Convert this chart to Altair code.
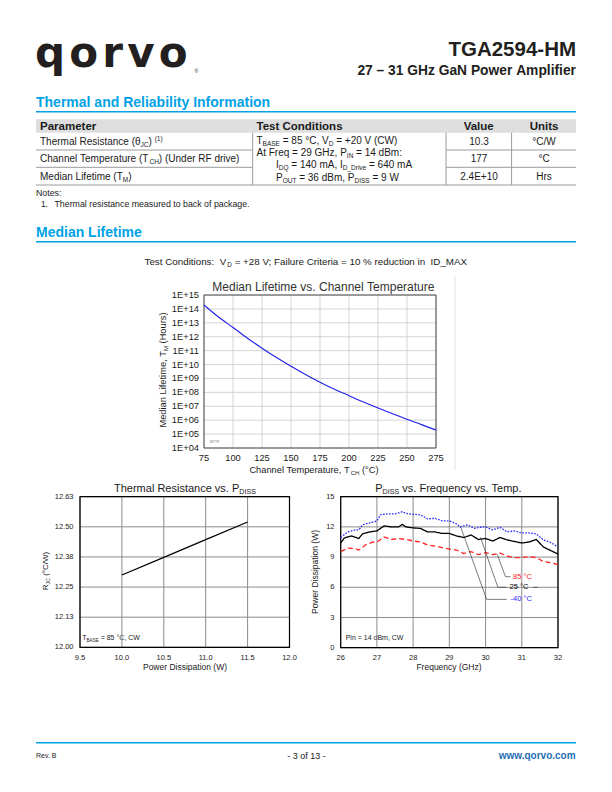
import altair as alt
import pandas as pd

# ------------------------------------------------------------------ data
MEDIAN_TEMP_C = [75, 87.5, 100, 112.5, 125, 137.5, 150, 162.5, 175, 187.5,
                 200, 212.5, 225, 237.5, 250, 262.5, 275]
MEDIAN_LIFE_HRS = [1.9e14, 2.6e13, 4.6e12, 7.8e11, 1.5e11, 3.2e10, 7.6e9, 1.95e9,
                   5.4e8, 1.7e8, 5.8e7, 2.0e7, 7.4e6, 2.9e6, 1.15e6, 4.8e5, 1.95e5]
MEDIAN_X_TICKS = [75, 100, 125, 150, 175, 200, 225, 250, 275]
MEDIAN_Y_TICKS = [1e4, 1e5, 1e6, 1e7, 1e8, 1e9, 1e10, 1e11, 1e12, 1e13, 1e14, 1e15]
MEDIAN_Y_LABELS = ["1E+04", "1E+05", "1E+06", "1E+07", "1E+08", "1E+09",
                   "1E+10", "1E+11", "1E+12", "1E+13", "1E+14", "1E+15"]

RTH_PDISS_W = [10.0, 10.5, 11.0, 11.5]
RTH_C_PER_W = [12.30, 12.373, 12.447, 12.52]
RTH_X_TICKS = [9.5, 10.0, 10.5, 11.0, 11.5, 12.0]
RTH_X_LABELS = ["9.5", "10.0", "10.5", "11.0", "11.5", "12.0"]
RTH_Y_TICKS = [12.0, 12.125, 12.25, 12.375, 12.5, 12.625]
RTH_Y_LABELS = ["12.00", "12.13", "12.25", "12.38", "12.50", "12.63"]

FREQ_M40 = [26.0, 26.2, 26.4, 26.5, 26.6, 26.8, 27.0, 27.1, 27.3, 27.5, 27.7, 27.8,
            28.0, 28.2, 28.4, 28.6, 28.8, 29.0, 29.2, 29.3, 29.5, 29.7, 29.9, 30.0,
            30.2, 30.4, 30.6, 30.8, 31.0, 31.2, 31.4, 31.6, 31.8, 32.0]
PDISS_M40 = [10.96, 11.5, 11.7, 11.7, 12.2, 12.4, 12.6, 13.2, 13.3, 13.3, 13.5, 13.35,
             13.25, 13.2, 12.8, 12.85, 12.6, 12.6, 12.3, 12.0, 12.2, 11.85, 12.0, 12.0,
             11.7, 11.95, 11.5, 11.6, 11.4, 11.4, 11.3, 10.7, 10.45, 10.0]
FREQ_25 = [26.0, 26.1, 26.3, 26.5, 26.6, 26.8, 27.0, 27.2, 27.4, 27.6, 27.7, 27.8,
           28.0, 28.2, 28.4, 28.6, 28.8, 29.0, 29.2, 29.4, 29.6, 29.8, 30.0, 30.2,
           30.4, 30.6, 30.8, 31.0, 31.2, 31.4, 31.6, 31.8, 32.0]
PDISS_25 = [10.4, 10.9, 11.1, 10.85, 11.3, 11.5, 11.6, 12.1, 12.0, 12.0, 12.25, 12.0,
            11.9, 11.85, 11.5, 11.5, 11.35, 11.35, 11.1, 10.95, 11.2, 10.75, 10.85, 10.6,
            10.95, 10.7, 10.55, 10.4, 10.5, 10.75, 10.0, 9.65, 9.3]
FREQ_85 = [26.0, 26.2, 26.4, 26.5, 26.7, 26.9, 27.0, 27.2, 27.4, 27.6, 27.8, 28.0,
           28.2, 28.4, 28.6, 28.8, 29.0, 29.2, 29.4, 29.6, 29.8, 30.0, 30.2, 30.4,
           30.6, 30.8, 31.0, 31.2, 31.4, 31.6, 31.8, 32.0]
PDISS_85 = [9.55, 9.9, 9.85, 9.7, 10.25, 10.5, 10.5, 11.0, 10.75, 10.85, 10.75, 10.6,
            10.5, 10.2, 10.1, 9.95, 9.8, 9.7, 9.35, 9.55, 9.25, 9.45, 9.25, 9.4,
            9.1, 8.95, 8.95, 9.05, 8.95, 8.55, 8.45, 8.25]
PD_SERIES = ["-40 °C", "25 °C", "85 °C"]
PD_COLORS = ["#2b2bff", "#000000", "#ff2222"]
PD_DASHES = [[1.6, 1.4], [1, 0], [5, 3]]
PD_X_TICKS = [26, 27, 28, 29, 30, 31, 32]
PD_Y_TICKS = [0, 3, 6, 9, 12, 15]

# leader lines of the in-plot labels (frequency GHz, power W)
LEAD_M40_F = [29.31, 30.03, 30.58]
LEAD_M40_W = [12.02, 4.8, 4.8]
LEAD_25_F = [29.86, 30.34, 30.58]
LEAD_25_W = [10.96, 6.0, 6.0]
LEAD_85_F = [30.32, 30.55, 30.69]
LEAD_85_W = [9.27, 7.05, 7.05]
LEAD_25_TAIL_F = [31.31, 31.44]
LEAD_25_TAIL_W = [6.0, 6.0]
LABEL_F = [30.69, 30.66, 30.76]
LABEL_W = [4.8, 6.0, 7.05]

# ------------------------------------------------------------------ helpers
FONT = "Liberation Sans"
BLUE = "#00a2e6"
INK = "#1a1a1a"
NB = "\u00a0"
OX, OY = 8, 8  # page margin (canvas origin on the page)


def _table(chars, widths):
    return dict(zip(chars, widths))


LOWER = "abcdefghijklmnopqrstuvwxyz"
UPPER = "ABCDEFGHIJKLMNOPQRSTUVWXYZ"
PUNCT = " !\"#$%&'()*+,-./"
NORM_W = {}
NORM_W.update(_table(PUNCT, [278, 278, 355, 556, 556, 889, 667, 191, 333, 333, 389, 584, 278, 333, 278, 278]))
NORM_W.update({d: 556 for d in "0123456789"})
NORM_W.update(_table(":;<=>?@", [278, 278, 584, 584, 584, 556, 1015]))
NORM_W.update(_table(UPPER, [667, 667, 722, 722, 667, 611, 778, 722, 278, 500, 667, 556, 833,
                             722, 778, 667, 778, 722, 667, 611, 722, 667, 944, 667, 667, 611]))
NORM_W.update(_table("[\\]^_`", [278, 278, 278, 469, 556, 333]))
NORM_W.update(_table(LOWER, [556, 556, 500, 556, 556, 278, 556, 556, 222, 222, 500, 222, 833,
                             556, 556, 556, 556, 333, 500, 278, 556, 500, 722, 500, 500, 500]))
BOLD_W = {}
BOLD_W.update(_table(PUNCT, [278, 333, 474, 556, 556, 889, 722, 238, 333, 333, 389, 584, 278, 333, 278, 278]))
BOLD_W.update({d: 556 for d in "0123456789"})
BOLD_W.update(_table(":;<=>?@", [333, 333, 584, 584, 584, 611, 975]))
BOLD_W.update(_table(UPPER, [722, 722, 722, 722, 667, 611, 778, 722, 278, 556, 722, 611, 833,
                             722, 778, 667, 778, 722, 667, 611, 722, 667, 944, 667, 667, 611]))
BOLD_W.update(_table("[\\]^_`", [333, 278, 333, 584, 556, 333]))
BOLD_W.update(_table(LOWER, [556, 611, 556, 611, 556, 333, 611, 611, 278, 278, 556, 278, 889,
                             611, 611, 611, 611, 389, 556, 333, 611, 556, 778, 556, 556, 500]))
for tbl in (NORM_W, BOLD_W):
    tbl.update({"°": 400, "θ": 556, "–": 556, "®": 737, NB: 278})


def text_width(s, size, bold):
    tbl = BOLD_W if bold else NORM_W
    return sum(tbl.get(c, 556) for c in s) * size / 1000.0


def rich(segs, x, y, size, bold=False, align="left", color=INK, angle=0, font=FONT):
    """Lay out a line of text with sub/superscript pieces (page coordinates)."""
    parts, total = [], 0.0
    for t, m in segs:
        s = size * 0.65 if m in ("sub", "sup") else size
        w = text_width(t, s, bold)
        lead = len(t) - len(t.lstrip(" "))
        core = t.strip(" ").replace(" ", NB)  # inner spaces kept as no-break spaces
        parts.append((core, m, s, w, lead * 278 * s / 1000.0))
        total += w
    pos = {"left": 0.0, "center": -total / 2.0, "right": -total}[align]
    rows = []
    for t, m, s, w, lw in parts:
        off = 0.22 * size if m == "sub" else (-0.38 * size if m == "sup" else 0.0)
        p = pos + lw
        if angle == 0:
            px, py = x + p, y + off
        else:  # 270: reads bottom-to-top
            px, py = x + off, y - p
        if t:
            rows.append(dict(px=px - OX, py=py - OY, txt=t, size=round(s, 2), bold=bold,
                             color=color, angle=angle, font=font))
        pos += w
    return rows


def N(t):
    return [(t, "n")]


# ------------------------------------------------------------------ page text
T = []
# logo: letters laid out one by one
LOGO = "qorvo"
LOGO_ADV = {"q": 716, "o": 687, "r": 493, "v": 652}
lx = 35.0
for ch in LOGO:
    T += rich(N(ch), lx, 66.5, 42, True, "left", "#231f20", font="DejaVu Sans")
    lx += LOGO_ADV[ch] * 42 / 1000.0 + 4.2
T += rich(N("®"), 194.5, 73, 5, False, "left", "#231f20")
T += rich(N("TGA2594-HM"), 576, 56, 20.5, True, "right", "#231f20")
T += rich(N("27 – 31 GHz GaN Power Amplifier"), 576, 75, 13.8, True, "right", "#231f20")
T += rich(N("Thermal and Reliability Information"), 36, 106.5, 14, True, "left", BLUE)

T += rich(N("Parameter"), 40, 130, 11.5, True)
T += rich(N("Test Conditions"), 256.5, 130, 11.5, True)
T += rich(N("Value"), 479, 130, 11.5, True, "center")
T += rich(N("Units"), 544, 130, 11.5, True, "center")

T += rich([("Thermal Resistance (θ", "n"), ("JC", "sub"), (") ", "n"), ("(1)", "sup")], 40, 145, 10)
T += rich([("Channel Temperature (T", "n"), ("CH", "sub"), (") (Under RF drive)", "n")], 40, 162, 10)
T += rich([("Median Lifetime (T", "n"), ("M", "sub"), (")", "n")], 40, 179.5, 10)

T += rich([("T", "n"), ("BASE", "sub"), (" = 85 °C, V", "n"), ("D", "sub"), (" = +20 V (CW)", "n")], 256.5, 143.5, 10)
T += rich([("At Freq = 29 GHz, P", "n"), ("IN", "sub"), (" = 14 dBm:", "n")], 256.5, 155.8, 10)
T += rich([("I", "n"), ("DQ", "sub"), (" = 140 mA, I", "n"), ("D_Drive", "sub"), (" = 640 mA", "n")], 276, 168.2, 10)
T += rich([("P", "n"), ("OUT", "sub"), (" = 36 dBm, P", "n"), ("DISS", "sub"), (" = 9 W", "n")], 276, 180.6, 10)

T += rich(N("10.3"), 479, 145, 10, align="center")
T += rich(N("177"), 479, 162, 10, align="center")
T += rich(N("2.4E+10"), 479, 179.5, 10, align="center")
T += rich(N("°C/W"), 544, 145, 10, align="center")
T += rich(N("°C"), 544, 162, 10, align="center")
T += rich(N("Hrs"), 544, 179.5, 10, align="center")

T += rich(N("Notes:"), 36, 195.8, 8.8)
T += rich(N("1."), 41, 207.3, 8.3)
T += rich(N("Thermal resistance measured to back of package."), 54.5, 207.3, 8.8)

T += rich(N("Median Lifetime"), 36, 236.5, 14, True, "left", BLUE)
T += rich([("Test Conditions:  V", "n"), ("D", "sub"),
           (" = +28 V; Failure Criteria = 10 % reduction in  ID_MAX", "n")], 306, 265, 9.8, align="center")

# median lifetime chart text
T += rich(N("Median Lifetime vs. Channel Temperature"), 324, 291, 12, color="#333333", align="center")
T += rich([("Median Lifetime, T", "n"), ("M", "sub"), (" (Hours)", "n")], 166.3, 370, 9.3, align="center", angle=270)
T += rich([("Channel Temperature, T", "n"), ("CH", "sub"), (" (°C)", "n")], 314, 473, 9.3, align="center")
T += rich(N("MTTF"), 210, 443, 3.5, color="#777777")

# thermal resistance chart text
T += rich([("Thermal Resistance vs. P", "n"), ("DISS", "sub")], 185, 492, 11, align="center")
T += rich([("R", "n"), ("JC", "sub"), (" (°C/W)", "n")], 47.8, 571, 8, align="center", angle=270)
T += rich(N("Power Dissipation (W)"), 185, 670, 8.5, align="center")
T += rich([("T", "n"), ("BASE", "sub"), (" = 85 °C, CW", "n")], 82.3, 640, 7)

# pdiss chart text
T += rich([("P", "n"), ("DISS", "sub"), (" vs. Frequency vs. Temp.", "n")], 449, 492, 11, align="center")
T += rich(N("Power Dissipation (W)"), 317.8, 572, 8.5, align="center", angle=270)
T += rich(N("Frequency (GHz)"), 449, 670, 8.5, align="center")
T += rich(N("Pin = 14 dBm, CW"), 345.7, 639.5, 7)

# footer
T += rich(N("Rev. B"), 36, 758, 7)
T += rich(N("- 3 of 13 -"), 306.5, 758.5, 9, align="center")
T += rich(N("www.qorvo.com"), 576, 759, 10, True, "right", "#1f6fb5")

text_df = pd.DataFrame(T)
layers = []

# ------------------------------------------------------------------ page shapes
RECTS = [dict(x=36, x2=576, y=119.3, y2=132.7)]
LINES = [
    dict(x=36, x2=576, y=111.7, y2=111.7, c=BLUE, w=1.5),
    dict(x=36, x2=576, y=241.7, y2=241.7, c=BLUE, w=1.5),
    dict(x=36, x2=576, y=742.7, y2=742.7, c=BLUE, w=1.5),
    dict(x=36, x2=252.7, y=150, y2=150, c="#9a9a9a", w=1),
    dict(x=446, x2=576, y=150, y2=150, c="#9a9a9a", w=1),
    dict(x=36, x2=252.7, y=167.3, y2=167.3, c="#9a9a9a", w=1),
    dict(x=446, x2=576, y=167.3, y2=167.3, c="#9a9a9a", w=1),
    dict(x=36, x2=576, y=185, y2=185, c="#9a9a9a", w=1),
    dict(x=252.7, x2=252.7, y=132.7, y2=185, c="#9a9a9a", w=1),
    dict(x=446, x2=446, y=132.7, y2=185, c="#9a9a9a", w=1),
    dict(x=511.6, x2=511.6, y=132.7, y2=185, c="#9a9a9a", w=1),
    dict(x=455, x2=455, y=276, y2=470, c="#e2e2e2", w=1),
]
rect_df = pd.DataFrame(RECTS)
for k in ("x", "x2"):
    rect_df[k] = rect_df[k] - OX
for k in ("y", "y2"):
    rect_df[k] = rect_df[k] - OY
layers.append(alt.Chart(rect_df).mark_rect(color="#dedede").encode(
    x=alt.X("x:Q", scale=None), x2="x2:Q", y=alt.Y("y:Q", scale=None), y2="y2:Q"))

line_df = pd.DataFrame(LINES)
for k in ("x", "x2"):
    line_df[k] = line_df[k] - OX
for k in ("y", "y2"):
    line_df[k] = line_df[k] - OY
for (c, w), g in line_df.groupby(["c", "w"]):
    layers.append(alt.Chart(g).mark_rule(color=c, strokeWidth=w).encode(
        x=alt.X("x:Q", scale=None), x2="x2:Q", y=alt.Y("y:Q", scale=None), y2="y2:Q"))

for (size, bold, color, angle, font), g in text_df.groupby(["size", "bold", "color", "angle", "font"]):
    layers.append(alt.Chart(g).mark_text(
        align="left", baseline="alphabetic", fontSize=float(size),
        fontWeight="bold" if bold else "normal", color=color, angle=int(angle), font=font
    ).encode(x=alt.X("px:Q", scale=None), y=alt.Y("py:Q", scale=None), text="txt:N"))


# ------------------------------------------------------------------ chart helpers
def grid_and_frame(xt, yt, xd, yd, xs, ys, gcol, gw, fcol, fw):
    vg = pd.DataFrame({"t": xt, "lo": [yd[0]] * len(xt), "hi": [yd[1]] * len(xt)})
    hg = pd.DataFrame({"t": yt, "lo": [xd[0]] * len(yt), "hi": [xd[1]] * len(yt)})
    fr = pd.DataFrame({"x0": [xd[0]], "x1": [xd[1]], "y0": [yd[0]], "y1": [yd[1]]})
    return [
        alt.Chart(vg).mark_rule(color=gcol, strokeWidth=gw).encode(
            x=alt.X("t:Q", scale=xs, axis=None), y=alt.Y("lo:Q", scale=ys, axis=None), y2="hi:Q"),
        alt.Chart(hg).mark_rule(color=gcol, strokeWidth=gw).encode(
            y=alt.Y("t:Q", scale=ys, axis=None), x=alt.X("lo:Q", scale=xs, axis=None), x2="hi:Q"),
        alt.Chart(fr).mark_rect(fillOpacity=0, stroke=fcol, strokeWidth=fw).encode(
            x=alt.X("x0:Q", scale=xs, axis=None), x2="x1:Q",
            y=alt.Y("y0:Q", scale=ys, axis=None), y2="y1:Q"),
    ]


def tick_labels(xt, xl, yt, yl, xs, ys, x_base_y, y_right_x, size):
    xdf = pd.DataFrame({"t": xt, "lab": xl})
    ydf = pd.DataFrame({"t": yt, "lab": yl})
    return [
        alt.Chart(xdf).mark_text(align="center", baseline="alphabetic", fontSize=size, font=FONT, color=INK).encode(
            x=alt.X("t:Q", scale=xs, axis=None), y=alt.value(x_base_y - OY), text="lab:N"),
        alt.Chart(ydf).mark_text(align="right", baseline="middle", fontSize=size, font=FONT, color=INK).encode(
            y=alt.Y("t:Q", scale=ys, axis=None), x=alt.value(y_right_x - OX), text="lab:N"),
    ]


# ------------------------------------------------------------------ median lifetime chart
mxs = alt.Scale(domain=[75, 275], range=[204 - OX, 436 - OX], nice=False, zero=False)
mys = alt.Scale(type="log", domain=[1e4, 1e15], range=[448 - OY, 295 - OY], nice=False)
med_df = pd.DataFrame({"T": MEDIAN_TEMP_C, "L": MEDIAN_LIFE_HRS})
median = alt.layer(
    *grid_and_frame(MEDIAN_X_TICKS, MEDIAN_Y_TICKS, [75, 275], [1e4, 1e15], mxs, mys,
                    "#c9c9c9", 0.8, "#4a4a4a", 1),
    alt.Chart(med_df).mark_line(color="#1f1fe8", strokeWidth=1.1, interpolate="monotone").encode(
        x=alt.X("T:Q", scale=mxs, axis=None), y=alt.Y("L:Q", scale=mys, axis=None)),
    *tick_labels(MEDIAN_X_TICKS, [str(v) for v in MEDIAN_X_TICKS], MEDIAN_Y_TICKS, MEDIAN_Y_LABELS,
                 mxs, mys, 461, 199, 9.3),
)

# ------------------------------------------------------------------ thermal resistance chart
txs = alt.Scale(domain=[9.5, 12.0], range=[80 - OX, 289.5 - OX], nice=False, zero=False)
tys = alt.Scale(domain=[12.0, 12.625], range=[647.3 - OY, 496.7 - OY], nice=False, zero=False)
rth_df = pd.DataFrame({"P": RTH_PDISS_W, "R": RTH_C_PER_W})
thermal = alt.layer(
    *grid_and_frame(RTH_X_TICKS, RTH_Y_TICKS, [9.5, 12.0], [12.0, 12.625], txs, tys,
                    "#8c8c8c", 1, "#000000", 1.2),
    alt.Chart(rth_df).mark_line(color="#000000", strokeWidth=1.2).encode(
        x=alt.X("P:Q", scale=txs, axis=None), y=alt.Y("R:Q", scale=tys, axis=None)),
    *tick_labels(RTH_X_TICKS, RTH_X_LABELS, RTH_Y_TICKS, RTH_Y_LABELS, txs, tys, 659.5, 73.5, 7.5),
)

# ------------------------------------------------------------------ pdiss chart
pxs = alt.Scale(domain=[26, 32], range=[340.7 - OX, 558 - OX], nice=False, zero=False)
pys = alt.Scale(domain=[0, 15], range=[647.7 - OY, 496.7 - OY], nice=False, zero=False)
pd_rows = []
for name, fs, ws in zip(PD_SERIES, [FREQ_M40, FREQ_25, FREQ_85], [PDISS_M40, PDISS_25, PDISS_85]):
    for f, w in zip(fs, ws):
        pd_rows.append({"temp": name, "f": f, "w": w})
pd_df = pd.DataFrame(pd_rows)
color_scale = alt.Scale(domain=PD_SERIES, range=PD_COLORS)
dash_scale = alt.Scale(domain=PD_SERIES, range=PD_DASHES)

lead_rows = []
for name, fs, ws in [("m40", LEAD_M40_F, LEAD_M40_W), ("25", LEAD_25_F, LEAD_25_W),
                     ("85", LEAD_85_F, LEAD_85_W), ("25tail", LEAD_25_TAIL_F, LEAD_25_TAIL_W)]:
    for i, (f, w) in enumerate(zip(fs, ws)):
        lead_rows.append({"g": name, "i": i, "f": f, "w": w})
lead_df = pd.DataFrame(lead_rows)
lab_df = pd.DataFrame({"temp": PD_SERIES, "f": LABEL_F, "w": LABEL_W,
                       "lab": [s.replace(" ", NB) for s in PD_SERIES]})

pdiss = alt.layer(
    *grid_and_frame(PD_X_TICKS, PD_Y_TICKS, [26, 32], [0, 15], pxs, pys,
                    "#8c8c8c", 1, "#000000", 1.2),
    alt.Chart(pd_df).mark_line(strokeWidth=1.3).encode(
        x=alt.X("f:Q", scale=pxs, axis=None), y=alt.Y("w:Q", scale=pys, axis=None),
        color=alt.Color("temp:N", scale=color_scale, legend=None),
        strokeDash=alt.StrokeDash("temp:N", scale=dash_scale, legend=None),
        detail="temp:N"),
    alt.Chart(lead_df).mark_line(color="#222222", strokeWidth=0.6).encode(
        x=alt.X("f:Q", scale=pxs, axis=None), y=alt.Y("w:Q", scale=pys, axis=None),
        detail="g:N", order="i:Q"),
    alt.Chart(lab_df).mark_text(align="left", baseline="middle", fontSize=7.5, font=FONT).encode(
        x=alt.X("f:Q", scale=pxs, axis=None), y=alt.Y("w:Q", scale=pys, axis=None),
        color=alt.Color("temp:N", scale=color_scale, legend=None), text="lab:N"),
    *tick_labels(PD_X_TICKS, [str(v) for v in PD_X_TICKS], PD_Y_TICKS, [str(v) for v in PD_Y_TICKS],
                 pxs, pys, 659.5, 334.5, 7.5),
)

chart = alt.layer(*layers, median, thermal, pdiss).resolve_scale(
    x="independent", y="independent"
).properties(
    width=596, height=776, autosize=alt.AutoSizeParams(type="none"), padding=0, background="white"
).configure_view(strokeWidth=0)

chart.save("out.html", embed_options={"renderer": "svg", "actions": False})
